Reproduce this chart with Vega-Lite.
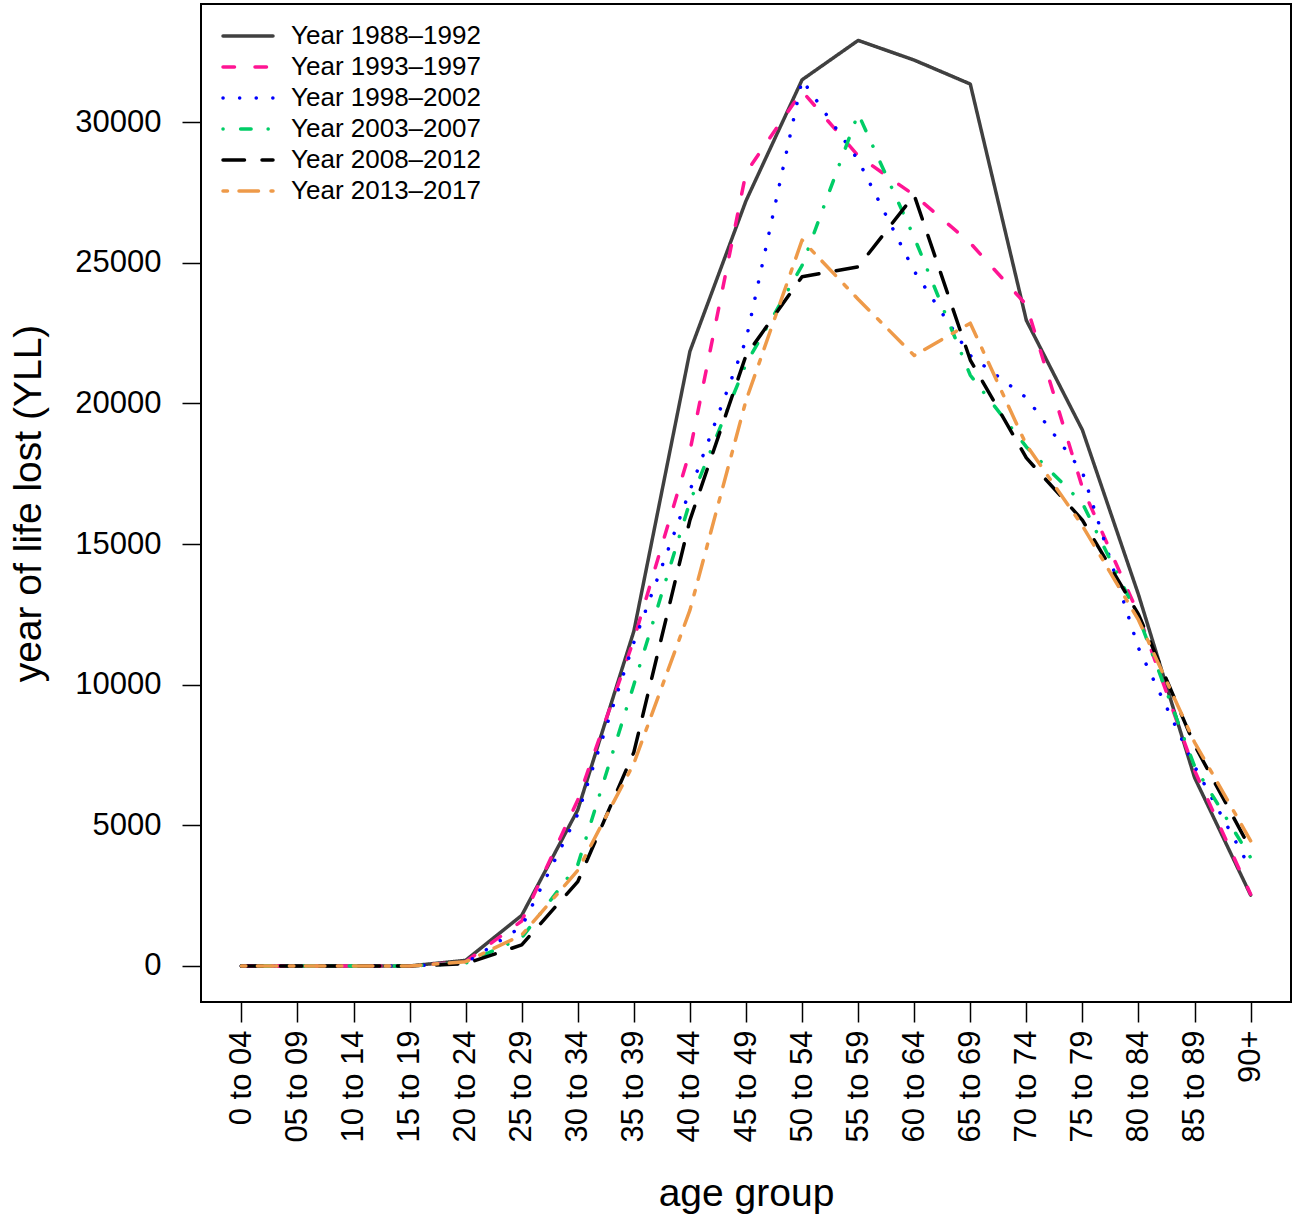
{
  "$schema": "https://vega.github.io/schema/vega-lite/v6.json",
  "width": 1090,
  "height": 998,
  "autosize": "none",
  "padding": {"left": 201, "top": 4, "right": 9, "bottom": 213},
  "background": "white",
  "config": {
    "view": {"stroke": "black", "strokeWidth": 2},
    "font": "Liberation Sans",
    "axis": {"labelColor": "black", "titleColor": "black", "tickColor": "black", "tickWidth": 1.5, "titleFontWeight": "normal", "domain": false, "grid": false}
  },
  "datasets": {
    "yll": [
      {"age": "0 to 04", "period": "Year 1988–1992", "yll": 0},
      {"age": "05 to 09", "period": "Year 1988–1992", "yll": 0},
      {"age": "10 to 14", "period": "Year 1988–1992", "yll": 0},
      {"age": "15 to 19", "period": "Year 1988–1992", "yll": 0},
      {"age": "20 to 24", "period": "Year 1988–1992", "yll": 200},
      {"age": "25 to 29", "period": "Year 1988–1992", "yll": 1800},
      {"age": "30 to 34", "period": "Year 1988–1992", "yll": 5550},
      {"age": "35 to 39", "period": "Year 1988–1992", "yll": 11900},
      {"age": "40 to 44", "period": "Year 1988–1992", "yll": 21850},
      {"age": "45 to 49", "period": "Year 1988–1992", "yll": 27200},
      {"age": "50 to 54", "period": "Year 1988–1992", "yll": 31500},
      {"age": "55 to 59", "period": "Year 1988–1992", "yll": 32900},
      {"age": "60 to 64", "period": "Year 1988–1992", "yll": 32200},
      {"age": "65 to 69", "period": "Year 1988–1992", "yll": 31350},
      {"age": "70 to 74", "period": "Year 1988–1992", "yll": 22950},
      {"age": "75 to 79", "period": "Year 1988–1992", "yll": 19050},
      {"age": "80 to 84", "period": "Year 1988–1992", "yll": 13200},
      {"age": "85 to 89", "period": "Year 1988–1992", "yll": 6700},
      {"age": "90+", "period": "Year 1988–1992", "yll": 2520},

      {"age": "0 to 04", "period": "Year 1993–1997", "yll": 0},
      {"age": "05 to 09", "period": "Year 1993–1997", "yll": 0},
      {"age": "10 to 14", "period": "Year 1993–1997", "yll": 0},
      {"age": "15 to 19", "period": "Year 1993–1997", "yll": 0},
      {"age": "20 to 24", "period": "Year 1993–1997", "yll": 150},
      {"age": "25 to 29", "period": "Year 1993–1997", "yll": 1600},
      {"age": "30 to 34", "period": "Year 1993–1997", "yll": 5900},
      {"age": "35 to 39", "period": "Year 1993–1997", "yll": 11600},
      {"age": "40 to 44", "period": "Year 1993–1997", "yll": 18300},
      {"age": "45 to 49", "period": "Year 1993–1997", "yll": 28200},
      {"age": "50 to 54", "period": "Year 1993–1997", "yll": 31100},
      {"age": "55 to 59", "period": "Year 1993–1997", "yll": 28800},
      {"age": "60 to 64", "period": "Year 1993–1997", "yll": 27400},
      {"age": "65 to 69", "period": "Year 1993–1997", "yll": 25700},
      {"age": "70 to 74", "period": "Year 1993–1997", "yll": 23500},
      {"age": "75 to 79", "period": "Year 1993–1997", "yll": 17000},
      {"age": "80 to 84", "period": "Year 1993–1997", "yll": 12500},
      {"age": "85 to 89", "period": "Year 1993–1997", "yll": 6950},
      {"age": "90+", "period": "Year 1993–1997", "yll": 2550},

      {"age": "0 to 04", "period": "Year 1998–2002", "yll": 0},
      {"age": "05 to 09", "period": "Year 1998–2002", "yll": 0},
      {"age": "10 to 14", "period": "Year 1998–2002", "yll": 0},
      {"age": "15 to 19", "period": "Year 1998–2002", "yll": 0},
      {"age": "20 to 24", "period": "Year 1998–2002", "yll": 100},
      {"age": "25 to 29", "period": "Year 1998–2002", "yll": 1400},
      {"age": "30 to 34", "period": "Year 1998–2002", "yll": 5400},
      {"age": "35 to 39", "period": "Year 1998–2002", "yll": 11500},
      {"age": "40 to 44", "period": "Year 1998–2002", "yll": 16900},
      {"age": "45 to 49", "period": "Year 1998–2002", "yll": 22250},
      {"age": "50 to 54", "period": "Year 1998–2002", "yll": 31500},
      {"age": "55 to 59", "period": "Year 1998–2002", "yll": 28650},
      {"age": "60 to 64", "period": "Year 1998–2002", "yll": 24700},
      {"age": "65 to 69", "period": "Year 1998–2002", "yll": 21700},
      {"age": "70 to 74", "period": "Year 1998–2002", "yll": 20200},
      {"age": "75 to 79", "period": "Year 1998–2002", "yll": 17560},
      {"age": "80 to 84", "period": "Year 1998–2002", "yll": 11300},
      {"age": "85 to 89", "period": "Year 1998–2002", "yll": 7100},
      {"age": "90+", "period": "Year 1998–2002", "yll": 3450},

      {"age": "0 to 04", "period": "Year 2003–2007", "yll": 0},
      {"age": "05 to 09", "period": "Year 2003–2007", "yll": 0},
      {"age": "10 to 14", "period": "Year 2003–2007", "yll": 0},
      {"age": "15 to 19", "period": "Year 2003–2007", "yll": 0},
      {"age": "20 to 24", "period": "Year 2003–2007", "yll": 100},
      {"age": "25 to 29", "period": "Year 2003–2007", "yll": 1000},
      {"age": "30 to 34", "period": "Year 2003–2007", "yll": 3600},
      {"age": "35 to 39", "period": "Year 2003–2007", "yll": 10000},
      {"age": "40 to 44", "period": "Year 2003–2007", "yll": 16500},
      {"age": "45 to 49", "period": "Year 2003–2007", "yll": 21400},
      {"age": "50 to 54", "period": "Year 2003–2007", "yll": 24900},
      {"age": "55 to 59", "period": "Year 2003–2007", "yll": 30300},
      {"age": "60 to 64", "period": "Year 2003–2007", "yll": 25900},
      {"age": "65 to 69", "period": "Year 2003–2007", "yll": 21000},
      {"age": "70 to 74", "period": "Year 2003–2007", "yll": 18450},
      {"age": "75 to 79", "period": "Year 2003–2007", "yll": 16450},
      {"age": "80 to 84", "period": "Year 2003–2007", "yll": 12400},
      {"age": "85 to 89", "period": "Year 2003–2007", "yll": 7100},
      {"age": "90+", "period": "Year 2003–2007", "yll": 3850},

      {"age": "0 to 04", "period": "Year 2008–2012", "yll": 0},
      {"age": "05 to 09", "period": "Year 2008–2012", "yll": 0},
      {"age": "10 to 14", "period": "Year 2008–2012", "yll": 0},
      {"age": "15 to 19", "period": "Year 2008–2012", "yll": 0},
      {"age": "20 to 24", "period": "Year 2008–2012", "yll": 80},
      {"age": "25 to 29", "period": "Year 2008–2012", "yll": 750},
      {"age": "30 to 34", "period": "Year 2008–2012", "yll": 3000},
      {"age": "35 to 39", "period": "Year 2008–2012", "yll": 7600},
      {"age": "40 to 44", "period": "Year 2008–2012", "yll": 15850},
      {"age": "45 to 49", "period": "Year 2008–2012", "yll": 21700},
      {"age": "50 to 54", "period": "Year 2008–2012", "yll": 24500},
      {"age": "55 to 59", "period": "Year 2008–2012", "yll": 24850},
      {"age": "60 to 64", "period": "Year 2008–2012", "yll": 27400},
      {"age": "65 to 69", "period": "Year 2008–2012", "yll": 21540},
      {"age": "70 to 74", "period": "Year 2008–2012", "yll": 18060},
      {"age": "75 to 79", "period": "Year 2008–2012", "yll": 15850},
      {"age": "80 to 84", "period": "Year 2008–2012", "yll": 12500},
      {"age": "85 to 89", "period": "Year 2008–2012", "yll": 7850},
      {"age": "90+", "period": "Year 2008–2012", "yll": 4150},

      {"age": "0 to 04", "period": "Year 2013–2017", "yll": 0},
      {"age": "05 to 09", "period": "Year 2013–2017", "yll": 0},
      {"age": "10 to 14", "period": "Year 2013–2017", "yll": 0},
      {"age": "15 to 19", "period": "Year 2013–2017", "yll": 0},
      {"age": "20 to 24", "period": "Year 2013–2017", "yll": 150},
      {"age": "25 to 29", "period": "Year 2013–2017", "yll": 1100},
      {"age": "30 to 34", "period": "Year 2013–2017", "yll": 3400},
      {"age": "35 to 39", "period": "Year 2013–2017", "yll": 7200},
      {"age": "40 to 44", "period": "Year 2013–2017", "yll": 12650},
      {"age": "45 to 49", "period": "Year 2013–2017", "yll": 20100},
      {"age": "50 to 54", "period": "Year 2013–2017", "yll": 25800},
      {"age": "55 to 59", "period": "Year 2013–2017", "yll": 23700},
      {"age": "60 to 64", "period": "Year 2013–2017", "yll": 21700},
      {"age": "65 to 69", "period": "Year 2013–2017", "yll": 22850},
      {"age": "70 to 74", "period": "Year 2013–2017", "yll": 18520},
      {"age": "75 to 79", "period": "Year 2013–2017", "yll": 15650},
      {"age": "80 to 84", "period": "Year 2013–2017", "yll": 12300},
      {"age": "85 to 89", "period": "Year 2013–2017", "yll": 7950},
      {"age": "90+", "period": "Year 2013–2017", "yll": 4450}
    ]
  },
  "data": {"name": "yll"},
  "mark": {"type": "line", "strokeWidth": 3.5, "strokeCap": "round", "strokeJoin": "round"},
  "encoding": {
    "x": {
      "field": "age", "type": "ordinal",
      "scale": {"type": "point", "padding": 0.72,
        "domain": ["0 to 04","05 to 09","10 to 14","15 to 19","20 to 24","25 to 29","30 to 34","35 to 39","40 to 44","45 to 49","50 to 54","55 to 59","60 to 64","65 to 69","70 to 74","75 to 79","80 to 84","85 to 89","90+"]},
      "axis": {
        "title": "age group", "titleFontSize": 39, "titleBaseline": "middle", "titleX": 545, "titleY": 191, "titleAlign": "center",
        "labelAngle": -90, "labelFontSize": 31, "labelPadding": 8, "tickSize": 20, "labelAlign": "right", "labelBaseline": "middle"
      }
    },
    "y": {
      "field": "yll", "type": "quantitative",
      "scale": {"domain": [-1280, 34195], "nice": false, "zero": false},
      "axis": {
        "title": "year of life lost (YLL)", "titleFontSize": 39, "titleAngle": -90, "titleBaseline": "middle", "titleAlign": "center", "titleX": -173, "titleY": 499,
        "values": [0, 5000, 10000, 15000, 20000, 25000, 30000], "format": "d",
        "labelFontSize": 31, "labelPadding": 21, "tickSize": 19
      }
    },
    "color": {
      "field": "period", "type": "nominal",
      "scale": {
        "domain": ["Year 1988–1992","Year 1993–1997","Year 1998–2002","Year 2003–2007","Year 2008–2012","Year 2013–2017"],
        "range": ["#404040","#FF1493","#0000FF","#00CD66","#000000","#EE9A49"]
      },
      "legend": {
        "title": null, "orient": "none", "legendX": 34, "legendY": 19,
        "symbolType": "M-2.5,0H2.5", "symbolSize": 400, "symbolStrokeWidth": 3.5,
        "labelFontSize": 26, "labelOffset": 30, "labelLimit": 0, "rowPadding": 5, "labelColor": "black", "padding": 0,
        "encode": {"symbols": {"update": {"strokeCap": {"value": "round"}}}}
      }
    },
    "strokeDash": {
      "field": "period", "type": "nominal",
      "scale": {
        "domain": ["Year 1988–1992","Year 1993–1997","Year 1998–2002","Year 2003–2007","Year 2008–2012","Year 2013–2017"],
        "range": [[1, 0], [11.5, 20.5], [0.1, 16.5], [0.1, 17.5, 10.5, 17], [21.5, 17.5], [4.5, 11.5, 19.5, 12.5]]
      },
      "legend": {
        "title": null, "orient": "none", "legendX": 34, "legendY": 19,
        "symbolType": "M-2.5,0H2.5", "symbolSize": 400, "symbolStrokeWidth": 3.5,
        "labelFontSize": 26, "labelOffset": 30, "labelLimit": 0, "rowPadding": 5, "labelColor": "black", "padding": 0,
        "encode": {"symbols": {"update": {"strokeCap": {"value": "round"}}}}
      }
    }
  }
}
